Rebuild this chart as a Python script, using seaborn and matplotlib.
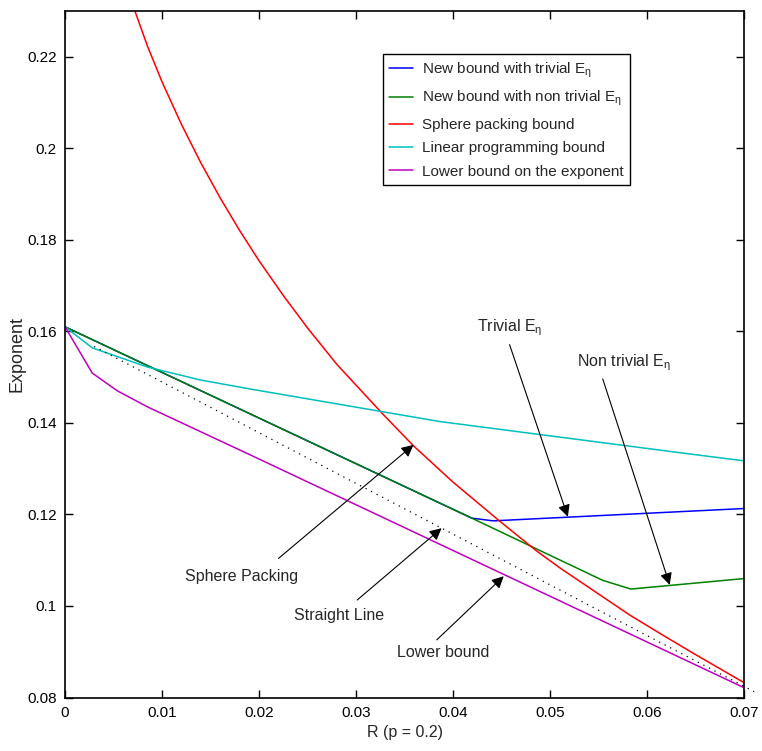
import numpy as np
import pandas as pd
import seaborn as sns
import matplotlib.pyplot as plt

# -------------------------------
# Curves (R, exponent)
# -------------------------------
trivial_r = [0.0, 0.0419, 0.0441, 0.0700]
trivial_e = [0.1610, 0.1192, 0.1186, 0.1213]

nontrivial_r = [0.0, 0.0419, 0.0554, 0.0583, 0.0700]
nontrivial_e = [0.1610, 0.1192, 0.1056, 0.1037, 0.1060]

sphere_r = [0.0066, 0.0072, 0.0085, 0.0100, 0.0120, 0.0140, 0.0160, 0.0180, 0.0200, 0.0225,
            0.0250, 0.0280, 0.0328, 0.0359, 0.0399, 0.0448, 0.0486, 0.0510, 0.0582, 0.0613,
            0.0647, 0.0700]
sphere_e = [0.2337, 0.2300, 0.2223, 0.2145, 0.2052, 0.1968, 0.1891, 0.1820, 0.1754, 0.1678,
            0.1607, 0.1528, 0.1418, 0.1350, 0.1272, 0.1185, 0.1120, 0.1083, 0.0980, 0.0940,
            0.0897, 0.0832]

lp_r = [0.0, 0.0028, 0.0085, 0.0139, 0.0191, 0.0386, 0.0644, 0.0700]
lp_e = [0.1610, 0.1564, 0.1522, 0.1494, 0.1474, 0.1403, 0.1332, 0.1317]

lower_r = [0.0, 0.0028, 0.0054, 0.0085, 0.0191, 0.0700]
lower_e = [0.1610, 0.1509, 0.1470, 0.1435, 0.1330, 0.0821]

straight_r = [0.0030, 0.0710]
straight_e = [0.1567, 0.0813]

legend_labels = ["New bound with trivial E$_{\\mathregular{η}}$",
                 "New bound with non trivial E$_{\\mathregular{η}}$",
                 "Sphere packing bound",
                 "Linear programming bound",
                 "Lower bound on the exponent"]
colors = ["#0000ff", "#008000", "#ff0000", "#00bfbf", "#bf00bf"]

# annotations: text, text position, arrow tail, arrow tip
note_text = ["Trivial E$_{\\mathregular{η}}$", "Non trivial E$_{\\mathregular{η}}$",
             "Sphere Packing", "Straight Line", "Lower bound"]
note_pos = [(0.0424, 0.1601), (0.0527, 0.1523), (0.0124, 0.1055), (0.0236, 0.0969), (0.0342, 0.0888)]
note_tail = [(0.0458, 0.1571), (0.0554, 0.1496), (0.0220, 0.1104), (0.0301, 0.1013), (0.0383, 0.0926)]
note_tip = [(0.0518, 0.1195), (0.0623, 0.1046), (0.0359, 0.1352), (0.0388, 0.1170), (0.0452, 0.1065)]

x_ticks = [0, 0.01, 0.02, 0.03, 0.04, 0.05, 0.06, 0.07]
x_ticklabels = ["0", "0.01", "0.02", "0.03", "0.04", "0.05", "0.06", "0.07"]
y_ticks = [0.08, 0.10, 0.12, 0.14, 0.16, 0.18, 0.20, 0.22]
y_ticklabels = ["0.08", "0.1", "0.12", "0.14", "0.16", "0.18", "0.2", "0.22"]

# -------------------------------
# Style
# -------------------------------
sns.set_style("ticks")
plt.rcParams["font.family"] = ["Liberation Sans", "DejaVu Sans"]
plt.rcParams["mathtext.fontset"] = "custom"
plt.rcParams["mathtext.rm"] = "Liberation Sans"
plt.rcParams["mathtext.it"] = "Liberation Sans"

fig = plt.figure(figsize=(7.62, 7.51), dpi=100)
ax = fig.add_axes([0.0853, 0.0712, 0.8917, 0.9142])

curves = [(trivial_r, trivial_e), (nontrivial_r, nontrivial_e), (sphere_r, sphere_e),
          (lp_r, lp_e), (lower_r, lower_e)]
for (r, e), lab, col in zip(curves, legend_labels, colors):
    df = pd.DataFrame({"R": r, "E": e})
    sns.lineplot(data=df, x="R", y="E", color=col, lw=1.1, label=lab,
                 sort=False, estimator=None, ax=ax)

line_df = pd.DataFrame({"R": straight_r, "E": straight_e})
sns.lineplot(data=line_df, x="R", y="E", color="black", lw=0.9, ax=ax,
             sort=False, estimator=None)
ax.lines[-1].set_linestyle((0, (1, 4)))
ax.lines[-1].set_clip_on(False)

for txt, pos, tail, tip in zip(note_text, note_pos, note_tail, note_tip):
    ax.text(pos[0], pos[1], txt, fontsize=11.5, ha="left", va="baseline")
    ax.annotate("", xy=tip, xytext=tail,
                arrowprops=dict(arrowstyle="-|>", color="black", lw=0.8,
                                mutation_scale=18, shrinkA=0, shrinkB=0))

ax.set_xlim(0, 0.07)
ax.set_ylim(0.08, 0.23)
ax.set_xticks(x_ticks)
ax.set_xticklabels(x_ticklabels)
ax.set_yticks(y_ticks)
ax.set_yticklabels(y_ticklabels)
ax.tick_params(direction="in", length=6, width=1, top=True, right=True,
               labelsize=11, pad=6, colors="black")
for sp in ax.spines.values():
    sp.set_visible(True)
    sp.set_color("black")
    sp.set_linewidth(1.2)

ax.set_xlabel("R (p = 0.2)", fontsize=11.5, labelpad=4)
ax.set_ylabel("Exponent", fontsize=13, labelpad=1)

leg = ax.legend(loc="upper left", bbox_to_anchor=(0.4675, 0.937), fontsize=11,
                frameon=True, fancybox=False, framealpha=1, edgecolor="black",
                handlelength=1.6, handletextpad=0.6, labelspacing=0.62,
                borderpad=0.4, borderaxespad=0)
leg.get_frame().set_linewidth(1.0)

plt.savefig("out.png", dpi=100)
plt.close()
